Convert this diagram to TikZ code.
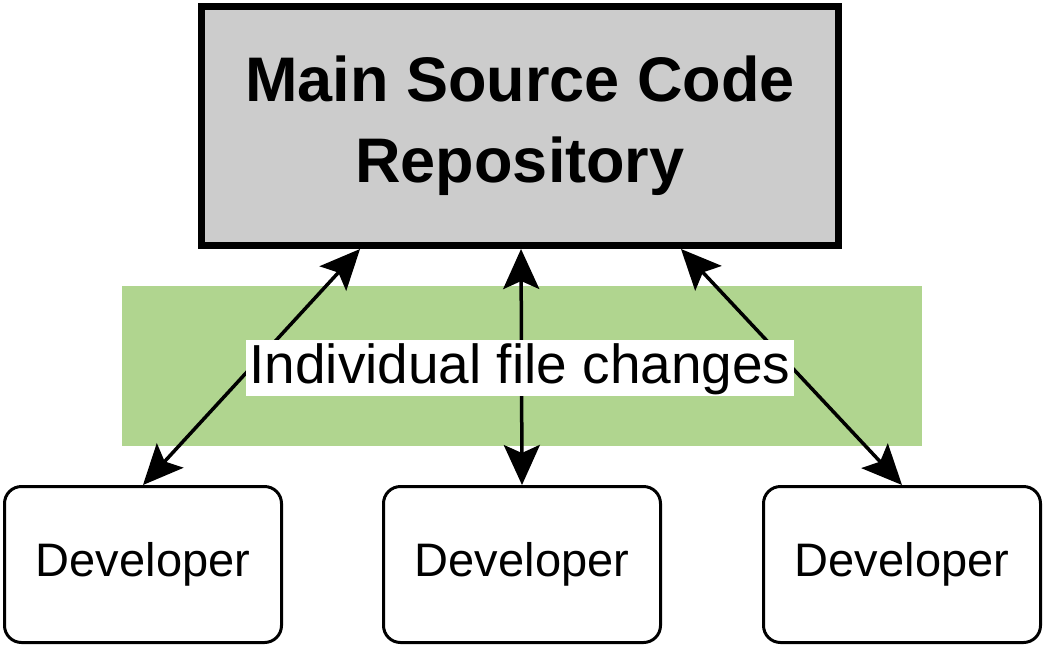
\documentclass[tikz,border=0pt]{standalone}
\usepackage{fontspec}
\setmainfont{Liberation Sans}
\usetikzlibrary{arrows.meta,calc}
\definecolor{boxgray}{HTML}{CCCCCC}
\definecolor{bandgreen}{HTML}{B0D58F}
\tikzset{
  repo/.style={draw=black, line width=7pt, fill=boxgray, minimum width=637pt, minimum height=239.5pt, inner sep=0pt, align=center, font=\fontsize{63}{81}\selectfont\bfseries},
  devbox/.style={draw=black, line width=3pt, fill=white, rounded corners=17pt, minimum width=277pt, minimum height=156pt, inner sep=0pt, font=\fontsize{47}{56}\selectfont},
  link/.style={draw=black, line width=3.5pt},
  headtip/.tip={Stealth[length=40pt,width=36pt,inset=8pt]},
  bandlabel/.style={fill=white, inner sep=0pt, inner xsep=3.5pt, text height=43pt, text depth=13pt, font=\fontsize{55}{56}\selectfont}
}
\begin{document}
\begin{tikzpicture}[x=1pt,y=-1pt]
\useasboundingbox (0,0) rectangle (1044,648);
\fill[bandgreen] (122,286) rectangle (922,446);
\node[repo] (main) at (520,125.75) {Main Source Code\\Repository};
\node[devbox] (dev1) at (143,564.5) {Developer};
\node[devbox] (dev2) at (522,564.5) {Developer};
\node[devbox] (dev3) at (902,564.5) {Developer};
\draw[link, headtip-headtip] ($(main.south west)!0.2516!(main.south east)$) -- (dev1.north);
\draw[link, headtip-headtip] ($(main.south west)!0.5016!(main.south east)$) -- (dev2.north);
\draw[link, headtip-headtip] ($(main.south west)!0.75!(main.south east)$) -- (dev3.north);
\node[bandlabel] (lbl) at (520,368) {Individual file changes};
\end{tikzpicture}
\end{document}
